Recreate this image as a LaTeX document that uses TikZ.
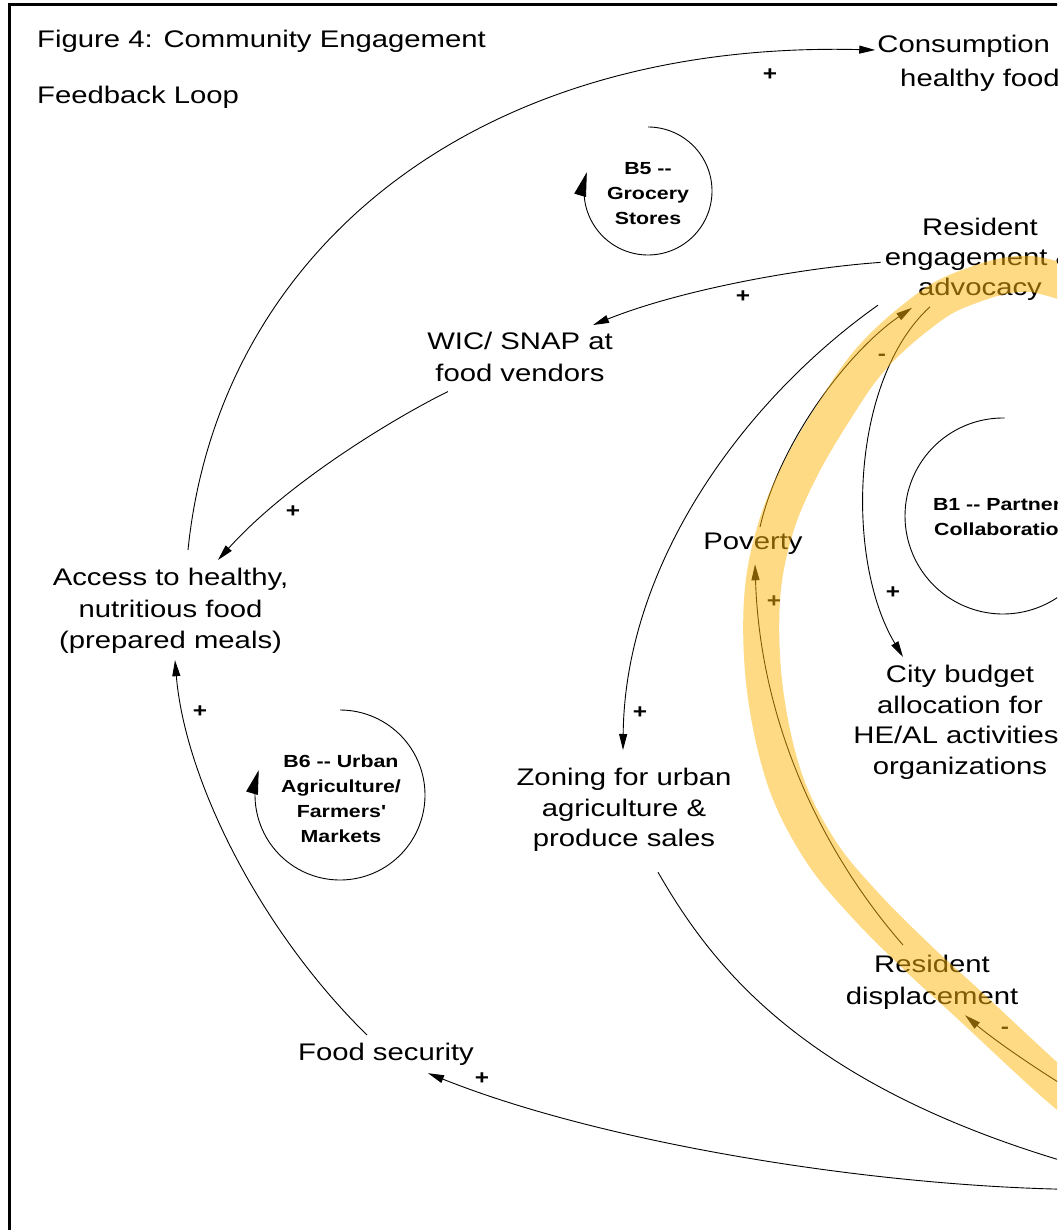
\documentclass[tikz,border=0pt]{standalone}
\usepackage{fontspec}
\setmainfont{Liberation Sans}[FakeStretch=1.22]
\usetikzlibrary{arrows.meta,calc}
\definecolor{hl}{RGB}{252,182,8}
\tikzset{
 lbl/.style={anchor=north, inner sep=0pt, align=center, font={\fontsize{24}{31}\selectfont}},
 loopname/.style={anchor=north, inner sep=0pt, align=center, font={\fontsize{17.5}{25}\selectfont\bfseries}},
 link/.style={line width=0.9pt, -{Triangle[length=16pt,width=8pt]}},
 looparc/.style={line width=0.9pt, -{Triangle[length=24pt,width=12pt]}},
 plainarc/.style={line width=0.9pt},
 pol/.style={inner sep=0pt, font={\fontsize{20}{20}\selectfont\bfseries}},
 band/.style={line width=36pt, hl, opacity=0.5, line cap=round, line join=round},
}
\begin{document}
\begin{tikzpicture}[x=1pt,y=-1pt]
\useasboundingbox (0,0) rectangle (1057,1230);
\clip (0,0) rectangle (1057,1230);
\fill[white] (0,0) rectangle (1057,1230);
% frame
\draw[line width=3pt] (9.5,1240) -- (9.5,5) -- (1070,5);

% title
\node[lbl, anchor=base west] (title1) at (37,48) {Figure 4: Community Engagement};
\node[lbl, anchor=base west] (title2) at (37,104) {Feedback Loop};

% variables
\node[lbl, font={\fontsize{24}{34}\selectfont}] (consume) at (980,35) {Consumption of\\healthy food};
\node[lbl, font={\fontsize{24}{30}\selectfont}] (resident) at (980,218) {Resident\\engagement \&\\advocacy};
\node[lbl, font={\fontsize{24}{32}\selectfont}] (wic) at (520,332) {WIC/ SNAP at\\food vendors};
\node[lbl, font={\fontsize{24}{31.5}\selectfont}] (access) at (170.5,568) {Access to healthy,\\nutritious food\\(prepared meals)};
\node[lbl] (poverty) at (753,533) {Poverty};
\node[lbl, font={\fontsize{24}{30.5}\selectfont}] (city) at (960,665) {City budget\\allocation for\\HE/AL activities/\\organizations};
\node[lbl, font={\fontsize{24}{30.5}\selectfont}] (zoning) at (624,768) {Zoning for urban\\agriculture \&\\produce sales};
\node[lbl, font={\fontsize{24}{32}\selectfont}] (displace) at (932,955) {Resident\\displacement};
\node[lbl] (foodsec) at (386,1043) {Food security};

% loop names
\node[loopname] (b5) at (648,162) {B5 -{}-\\Grocery\\Stores};
\node[loopname] (b6) at (341,755) {B6 -{}- Urban\\Agriculture/\\Farmers\textquotesingle\\Markets};
\node[loopname] (b1) at (1003,498) {B1 -{}- Partners\\Collaboration};

% loop arcs
\draw[looparc] plot[domain=-90:197, samples=120, smooth, variable=\t] ({648+64*cos(\t)}, {191+64*sin(\t)});
\draw[looparc] plot[domain=-90:197, samples=120, smooth, variable=\t] ({340+85*cos(\t)}, {795+85*sin(\t)});
\draw[plainarc] plot[domain=20:271, samples=120, smooth, variable=\t] ({1003+98*cos(\t)}, {516+98*sin(\t)});

% off-picture ends
\coordinate (offA) at (1110,1112);
\coordinate (offB) at (1200,1195);
\coordinate (offC) at (1200,1185);

% connectors
\draw[link] ($(access.north)+(17.5,-18)$) .. controls (218,255) and (470,40) .. ($(consume.north west)+(-2,15)$);
\draw[link] ($(resident.west)+(-4,3)$) .. controls (800,268) and (680,290) .. ($(wic.north)+(73,-7)$);
\draw[link] ($(wic.south)+(-72,9.5)$) .. controls (400,415) and (290,480) .. ($(access.north)+(47.5,-8)$);
\draw[link] ($(resident.south)+(-102,4.4)$) .. controls (748,397) and (625,560) .. ($(zoning.north)+(-1,-18)$);
\draw[link] ($(resident.south)+(-50,6)$) .. controls (850,380) and (845,560) .. ($(city.north)+(-57,-8)$);
\draw[link] ($(poverty.north)+(7,-6)$) .. controls (780,440) and (850,350) .. ($(resident.south)+(-68,7)$);
\draw[link] ($(displace.north)+(-29,-10)$) .. controls (820,850) and (760,720) .. ($(poverty.south)+(2,9.4)$);
\draw[link] (offA) .. controls (1070,1092) and (1000,1045) .. ($(displace.south)+(33,5.4)$);
\draw[line width=0.9pt] ($(zoning.south)+(34,20.4)$) .. controls (720,980) and (830,1120) .. (offB);
\draw[link] (offC) .. controls (1000,1205) and (640,1158) .. ($(foodsec.south)+(42,7.4)$);
\draw[link] ($(foodsec.north)+(-19,-8)$) .. controls (260,930) and (185,780) .. ($(access.south)+(4.5,6.4)$);

% polarities
\node[pol] (p1) at (770,75) {+};
\node[pol] (p2) at (743,297) {+};
\node[pol] (p3) at (293,512) {+};
\node[pol] (p4) at (640,713) {+};
\node[pol] (p5) at (893,593) {+};
\node[pol] (p6) at (882,357) {-};
\node[pol] (p7) at (774,602) {+};
\node[pol] (p8) at (1005,1030) {-};
\node[pol] (p9) at (482,1079) {+};
\node[pol] (p10) at (200,712) {+};

% highlight band
\draw[band] plot[smooth, tension=0.6] coordinates {(1110,300) (1030,274) (960,290) (915,318) (870,360) (835,410) (800,470) (775,530) (762,600) (765,690) (785,780) (820,850) (865,905) (920,960) (967,1003) (1050,1080) (1110,1130)};
\end{tikzpicture}
\end{document}
